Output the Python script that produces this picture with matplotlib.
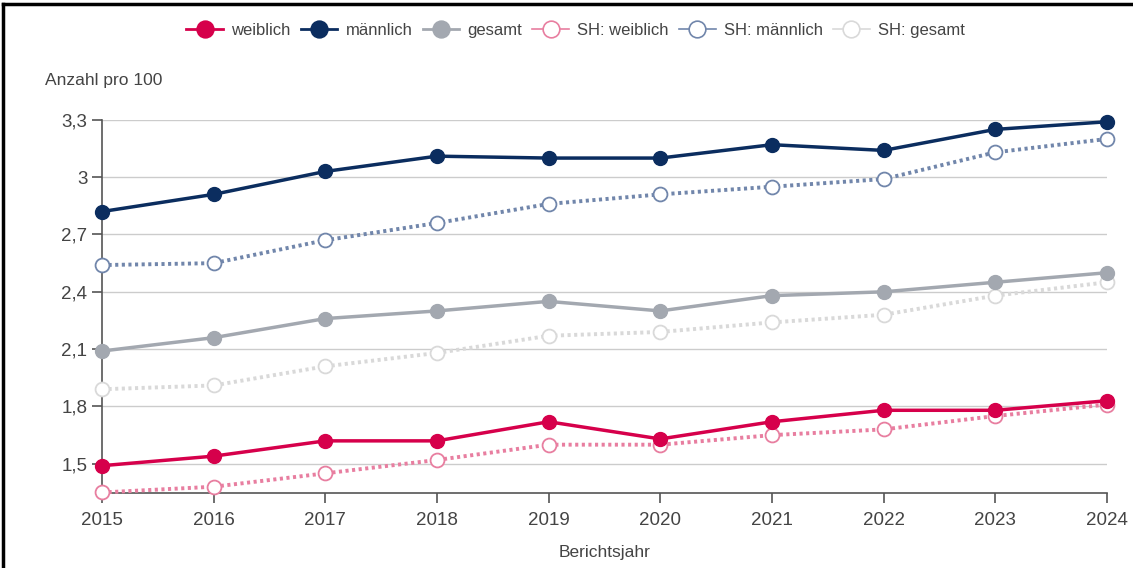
import matplotlib.pyplot as plt
from matplotlib.lines import Line2D

plt.rcParams['font.family'] = ['Liberation Sans', 'DejaVu Sans']

# Berichtsjahre
years = [2015, 2016, 2017, 2018, 2019, 2020, 2021, 2022, 2023, 2024]

# Anzahl pro 100
weiblich = [1.49, 1.54, 1.62, 1.62, 1.72, 1.63, 1.72, 1.78, 1.78, 1.83]
maennlich = [2.82, 2.91, 3.03, 3.11, 3.10, 3.10, 3.17, 3.14, 3.25, 3.29]
gesamt = [2.09, 2.16, 2.26, 2.30, 2.35, 2.30, 2.38, 2.40, 2.45, 2.50]
sh_weiblich = [1.35, 1.38, 1.45, 1.52, 1.60, 1.60, 1.65, 1.68, 1.75, 1.81]
sh_maennlich = [2.54, 2.55, 2.67, 2.76, 2.86, 2.91, 2.95, 2.99, 3.13, 3.20]
sh_gesamt = [1.89, 1.91, 2.01, 2.08, 2.17, 2.19, 2.24, 2.28, 2.38, 2.45]

y_ticks = [1.5, 1.8, 2.1, 2.4, 2.7, 3.0, 3.3]
y_labels = ["1,5", "1,8", "2,1", "2,4", "2,7", "3", "3,3"]

fig = plt.figure(figsize=(11.33, 5.68), dpi=100)
ax = fig.add_axes([0.090, 0.132, 0.887, 0.657])

text_col = "#444444"

# (label, values, colour, filled?)
series = [
    ("SH: gesamt", sh_gesamt, "#d9d9d9", False),
    ("SH: männlich", sh_maennlich, "#7186ab", False),
    ("SH: weiblich", sh_weiblich, "#e87ea0", False),
    ("gesamt", gesamt, "#a3a8b0", True),
    ("männlich", maennlich, "#0b2d5f", True),
    ("weiblich", weiblich, "#d6004b", True),
]

handles = {}
for label, vals, col, filled in series:
    if filled:
        ln, = ax.plot(years, vals, color=col, lw=2.5, marker="o", ms=10,
                      mfc=col, mec=col, clip_on=False, zorder=4)
    else:
        ln, = ax.plot(years, vals, color=col, lw=2.8, ls=(0, (0.8, 0.9)),
                      marker="o", ms=10, mfc="white", mec=col, mew=1.3,
                      clip_on=False, zorder=3)
    handles[label] = (col, filled)

ax.set_xlim(2015, 2024)
ax.set_ylim(1.347, 3.3)
ax.set_xticks(years)
ax.set_xticklabels([str(y) for y in years])
ax.set_yticks(y_ticks)
ax.set_yticklabels(y_labels)
ax.grid(axis="y", color="#cccccc", lw=1)
ax.set_axisbelow(True)

for s in ["top", "right"]:
    ax.spines[s].set_visible(False)
for s in ["left", "bottom"]:
    ax.spines[s].set_color("#555555")
    ax.spines[s].set_linewidth(1.2)
ax.tick_params(axis="both", colors="#555555", labelcolor=text_col,
               labelsize=13.5, length=7, width=1.2)
ax.tick_params(axis="x", pad=7)

ax.set_xlabel("Berichtsjahr", fontsize=12.5, color=text_col, labelpad=11)
fig.text(0.040, 0.858, "Anzahl pro 100", fontsize=12.5, color=text_col,
         ha="left", va="center")

# legend
order = ["weiblich", "männlich", "gesamt", "SH: weiblich", "SH: männlich", "SH: gesamt"]
leg_handles = []
for name in order:
    col, filled = handles[name]
    leg_handles.append(Line2D([0], [0], color=col, lw=2 if filled else 1.2,
                              marker="o", ms=12,
                              mfc=col if filled else "white", mec=col,
                              mew=1.2))
fig.legend(leg_handles, order, loc="center", bbox_to_anchor=(0.508, 0.947),
           ncol=6, frameon=False, fontsize=12, handlelength=2.2,
           handletextpad=0.5, columnspacing=0.6, labelcolor=text_col)

# frame of the screenshot
fig.add_artist(Line2D([0.003, 1.0], [0.993, 0.993], color="black", lw=2.5,
                      transform=fig.transFigure))
fig.add_artist(Line2D([0.003, 0.003], [0.0, 0.993], color="black", lw=2.5,
                      transform=fig.transFigure))

fig.savefig("out.png", dpi=100)
